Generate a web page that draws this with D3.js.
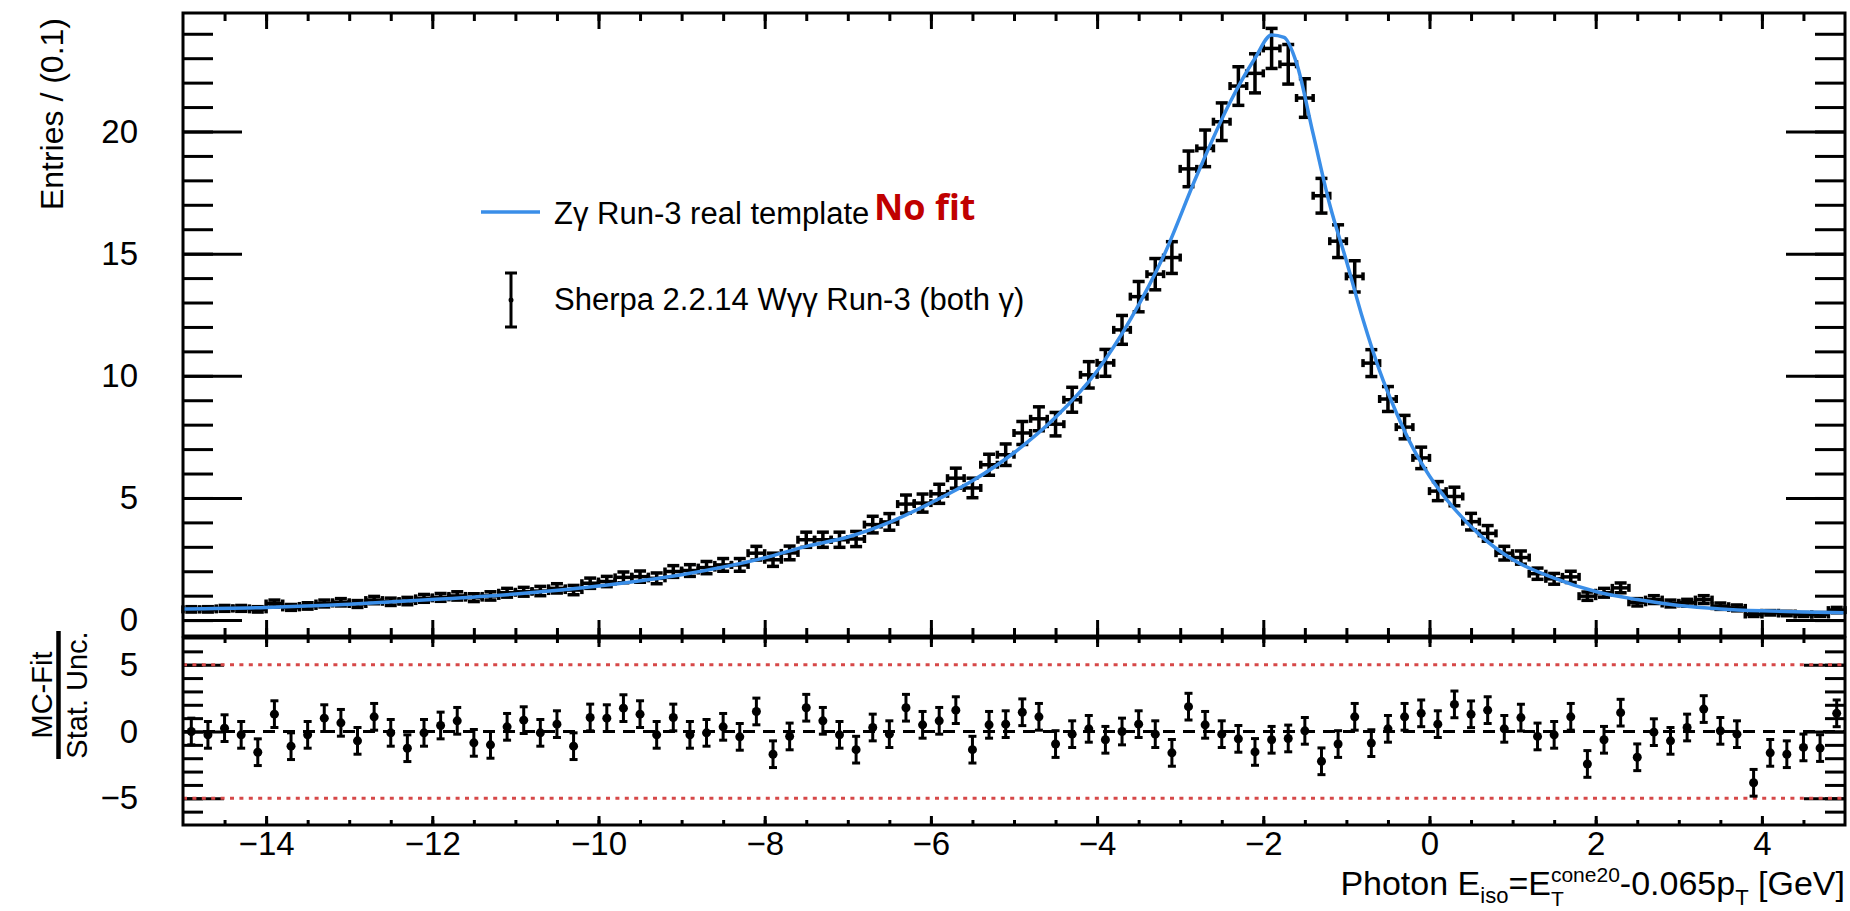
<!DOCTYPE html>
<html>
<head>
<meta charset="utf-8">
<script src="https://cdn.jsdelivr.net/npm/d3@7"></script>
<style>
  html, body { margin: 0; padding: 0; background: #fff; }
  svg { display: block; }
  text { font-family: "Liberation Sans", Arial, Helvetica, sans-serif; fill: #000; }
</style>
</head>
<body>
<div id="chart"></div>
<script>
// ---- data ----
// histogram: 100 bins of width 0.2 between -15 and 5
const binStart = -15;
const binWidth = 0.2;

const entries = [
  0.44, 0.44, 0.48, 0.48, 0.44, 0.68, 0.52, 0.58, 0.68, 0.73,
  0.66, 0.82, 0.75, 0.78, 0.89, 0.93, 0.99, 0.92, 0.99, 1.12,
  1.16, 1.19, 1.30, 1.23, 1.51, 1.58, 1.75, 1.78, 1.71, 1.99,
  2.03, 2.15, 2.26, 2.26, 2.74, 2.47, 2.75, 3.29, 3.29, 3.29,
  3.32, 3.91, 4.02, 4.75, 4.79, 5.17, 5.81, 5.41, 6.36, 6.77,
  7.66, 8.24, 8.02, 9.02, 10.04, 10.53, 11.88, 13.24, 14.16, 14.84,
  18.47, 19.31, 20.40, 21.86, 22.38, 23.40, 22.75, 21.37, 17.37, 15.51,
  14.07, 10.52, 9.05, 7.90, 6.64, 5.28, 5.06, 4.03, 3.55, 2.74,
  2.56, 1.90, 1.69, 1.77, 0.98, 1.12, 1.32, 0.73, 0.84, 0.68,
  0.71, 0.84, 0.57, 0.50, 0.23, 0.30, 0.27, 0.23, 0.23, 0.41
];

const entryErrors = [
  0.11, 0.11, 0.12, 0.12, 0.11, 0.14, 0.12, 0.13, 0.14, 0.15,
  0.14, 0.15, 0.15, 0.15, 0.16, 0.16, 0.17, 0.16, 0.17, 0.18,
  0.18, 0.19, 0.19, 0.19, 0.21, 0.21, 0.22, 0.23, 0.22, 0.24,
  0.24, 0.25, 0.26, 0.26, 0.28, 0.27, 0.28, 0.31, 0.31, 0.31,
  0.31, 0.34, 0.34, 0.37, 0.37, 0.39, 0.41, 0.40, 0.43, 0.44,
  0.47, 0.49, 0.48, 0.51, 0.54, 0.55, 0.59, 0.62, 0.64, 0.65,
  0.73, 0.75, 0.77, 0.79, 0.80, 0.82, 0.81, 0.79, 0.71, 0.67,
  0.64, 0.55, 0.51, 0.48, 0.44, 0.39, 0.38, 0.34, 0.32, 0.28,
  0.27, 0.23, 0.22, 0.23, 0.17, 0.18, 0.20, 0.15, 0.16, 0.14,
  0.14, 0.16, 0.13, 0.12, 0.08, 0.09, 0.09, 0.08, 0.08, 0.11
];

// (MC - Fit) / stat. unc. per bin, error is 1 by construction
const pulls = [
  0.00, -0.25, 0.25, -0.25, -1.55, 1.30, -1.10, -0.25, 1.00, 0.65,
  -0.70, 1.10, -0.10, -1.25, -0.10, 0.45, 0.80, -0.85, -1.00, 0.35,
  0.85, -0.10, 0.55, -1.10, 1.05, 1.00, 1.75, 1.30, -0.25, 1.05,
  -0.25, -0.10, 0.35, -0.40, 1.50, -1.70, -0.37, 1.78, 0.80, -0.25,
  -1.36, 0.30, -0.20, 1.78, 0.50, 0.80, 1.60, -1.36, 0.50, 0.55,
  1.44, 1.10, -0.94, -0.20, 0.20, -0.62, 0.00, 0.55, -0.20, -1.60,
  1.86, 0.50, -0.20, -0.55, -1.53, -0.62, -0.52, 0.05, -2.23, -0.94,
  1.10, -0.87, 0.20, 1.10, 1.36, 0.55, 2.03, 1.29, 1.60, 0.20,
  1.04, -0.37, -0.25, 1.10, -2.43, -0.62, 1.41, -1.93, -0.05, -0.70,
  0.30, 1.68, 0.05, -0.20, -3.84, -1.60, -1.70, -1.19, -1.24, 1.36
];
const pullError = 1;

// Z gamma template curve, sampled along the drawn line
const fitX = [-15, -14, -13, -12, -11, -10, -9, -8, -7.5, -7, -6.5, -6, -5.5, -5, -4.5, -4,
  -3.6, -3.2, -2.8, -2.4, -2.1, -1.9, -1.75, -1.6, -1.4, -1.2, -1.0, -0.8, -0.6, -0.4, -0.2,
  0.0, 0.3, 0.6, 1.0, 1.5, 2.0, 2.5, 3.0, 3.5, 4.0, 4.5, 5.0];
const fitY = [0.46, 0.52, 0.65, 0.84, 1.07, 1.40, 1.86, 2.55, 3.02, 3.40, 4.00, 4.80, 5.70, 6.85, 8.30, 10.2,
  12.3, 14.9, 18.2, 21.2, 23.0, 23.95, 23.85, 22.8, 19.9, 17.0, 14.7, 12.3, 10.2, 8.5, 7.05,
  5.9, 4.55, 3.5, 2.48, 1.72, 1.17, 0.84, 0.60, 0.46, 0.38, 0.33, 0.30];

const mainYLabels = [0, 5, 10, 15, 20];
const ratioYLabels = [-5, 0, 5];
const xLabels = [-14, -12, -10, -8, -6, -4, -2, 0, 2, 4];
const ratioLimits = [-5, 5];

// ---- layout ----
const W = 1850, H = 911;
const plotL = 183, plotR = 1845;
const mainTop = 13, mainBottom = 636;
const ratioTop = 638, ratioBottom = 825;
const blue = "#3a8ee8";
const fontStack = '"Liberation Sans", Arial, Helvetica, sans-serif';

const svg = d3.select("#chart").append("svg")
    .attr("width", W)
    .attr("height", H);

svg.append("rect").attr("width", W).attr("height", H).attr("fill", "#fff");

const x = d3.scaleLinear().domain([-15, 5]).range([plotL, plotR]);
const yMain = d3.scaleLinear().domain([-0.65, 24.85]).range([mainBottom, mainTop]);
const yRatio = d3.scaleLinear().domain([-7, 7]).range([ratioBottom, ratioTop]);

const bins = entries.map(function (v, i) {
    return {
        c: +(binStart + binWidth * (i + 0.5)).toFixed(2),
        v: v,
        e: entryErrors[i],
        p: pulls[i]
    };
});

const minorX = d3.range(-14.5, 5, 0.5);
const majorX = d3.range(-14, 5, 2);

// draws ticks of one axis with d3, removes the domain path
function tickAxis(axis, values, size, tx, ty) {
    const g = svg.append("g")
        .attr("transform", "translate(" + tx + "," + ty + ")")
        .call(axis.tickValues(values).tickSize(size).tickFormat(""));
    g.select(".domain").remove();
    g.selectAll(".tick line").attr("stroke", "#000").attr("stroke-width", 3);
    return g;
}

function labelAxis(axis, values, pad, tx, ty, fs) {
    const g = svg.append("g")
        .attr("transform", "translate(" + tx + "," + ty + ")")
        .call(axis.tickValues(values).tickSize(0).tickPadding(pad));
    g.select(".domain").remove();
    g.selectAll(".tick line").remove();
    g.selectAll(".tick text")
        .attr("fill", "#000")
        .style("font-family", fontStack)
        .style("font-size", fs + "px");
    return g;
}

// ---- main panel ----
// x ticks top & bottom
tickAxis(d3.axisBottom(x), minorX, -8, 0, mainBottom);
tickAxis(d3.axisBottom(x), majorX, -16, 0, mainBottom);
tickAxis(d3.axisTop(x), minorX, -8, 0, mainTop);
tickAxis(d3.axisTop(x), majorX, -16, 0, mainTop);
// y ticks left & right
tickAxis(d3.axisLeft(yMain), d3.range(0, 25, 1), -30, plotL, 0);
tickAxis(d3.axisLeft(yMain), mainYLabels, -59, plotL, 0);
tickAxis(d3.axisRight(yMain), d3.range(0, 25, 1), -30, plotR, 0);
tickAxis(d3.axisRight(yMain), mainYLabels, -59, plotR, 0);
labelAxis(d3.axisLeft(yMain), mainYLabels, 45, plotL, 0, 33);

// data points: cross with caps
const pts = svg.append("g").attr("stroke", "#000").attr("stroke-width", 3.5);
const hb = binWidth / 2;
bins.forEach(function (d) {
    const cx = x(d.c), cy = yMain(d.v);
    const yl = yMain(d.v - d.e), yh = yMain(d.v + d.e);
    const xl = x(d.c - hb), xh = x(d.c + hb);
    pts.append("line").attr("x1", cx).attr("x2", cx).attr("y1", yl).attr("y2", yh);
    pts.append("line").attr("x1", cx - 6).attr("x2", cx + 6).attr("y1", yl).attr("y2", yl);
    pts.append("line").attr("x1", cx - 6).attr("x2", cx + 6).attr("y1", yh).attr("y2", yh);
    pts.append("line").attr("x1", xl).attr("x2", xh).attr("y1", cy).attr("y2", cy);
    pts.append("line").attr("x1", xl).attr("x2", xl).attr("y1", cy - 4).attr("y2", cy + 4);
    pts.append("line").attr("x1", xh).attr("x2", xh).attr("y1", cy - 4).attr("y2", cy + 4);
});

// template curve
const fitLine = d3.line()
    .x(function (d) { return x(d[0]); })
    .y(function (d) { return yMain(d[1]); })
    .curve(d3.curveMonotoneX);

svg.append("path")
    .datum(d3.zip(fitX, fitY))
    .attr("d", fitLine)
    .attr("fill", "none")
    .attr("stroke", blue)
    .attr("stroke-width", 3.5);

svg.append("rect")
    .attr("x", plotL).attr("y", mainTop)
    .attr("width", plotR - plotL).attr("height", mainBottom - mainTop)
    .attr("fill", "none").attr("stroke", "#000").attr("stroke-width", 3);

// legend
svg.append("line")
    .attr("x1", 481).attr("x2", 540).attr("y1", 212).attr("y2", 212)
    .attr("stroke", blue).attr("stroke-width", 3.5);
svg.append("text")
    .attr("x", 554).attr("y", 224)
    .style("font-size", "31px")
    .text("Z\u03b3 Run-3 real template");
svg.append("text")
    .attr("x", 874).attr("y", 220)
    .style("font-family", '"Open Sans", "Noto Sans", sans-serif')
    .style("font-weight", 700)
    .style("font-size", "36px")
    .style("fill", "#c00000")
    .text("No fit");

const lg = svg.append("g").attr("stroke", "#000").attr("stroke-width", 3);
lg.append("line").attr("x1", 511).attr("x2", 511).attr("y1", 273).attr("y2", 327);
lg.append("line").attr("x1", 505).attr("x2", 517).attr("y1", 273).attr("y2", 273);
lg.append("line").attr("x1", 505).attr("x2", 517).attr("y1", 327).attr("y2", 327);
svg.append("circle").attr("cx", 511).attr("cy", 300).attr("r", 2.5).attr("fill", "#000");
svg.append("text")
    .attr("x", 554).attr("y", 310)
    .style("font-size", "31px")
    .text("Sherpa 2.2.14 W\u03b3\u03b3 Run-3 (both \u03b3)");

// y title
svg.append("text")
    .attr("transform", "translate(63,18) rotate(-90)")
    .attr("text-anchor", "end")
    .style("font-size", "32px")
    .text("Entries / (0.1)");

// ---- ratio panel ----
tickAxis(d3.axisBottom(x), minorX, -5, 0, ratioBottom);
tickAxis(d3.axisBottom(x), majorX, -9, 0, ratioBottom);
tickAxis(d3.axisTop(x), minorX, -5, 0, ratioTop);
tickAxis(d3.axisTop(x), majorX, -9, 0, ratioTop);
tickAxis(d3.axisLeft(yRatio), d3.range(-6, 7, 1), -20, plotL, 0);
tickAxis(d3.axisLeft(yRatio), ratioYLabels, -41, plotL, 0);
tickAxis(d3.axisRight(yRatio), d3.range(-6, 7, 1), -20, plotR, 0);
tickAxis(d3.axisRight(yRatio), ratioYLabels, -41, plotR, 0);
labelAxis(d3.axisLeft(yRatio), ratioYLabels, 45, plotL, 0, 33);
labelAxis(d3.axisBottom(x), xLabels, 7, 0, ratioBottom, 33);

// limits at +-5
svg.selectAll(".limit")
    .data(ratioLimits)
    .enter().append("line")
    .attr("class", "limit")
    .attr("x1", plotL).attr("x2", plotR)
    .attr("y1", function (d) { return yRatio(d); })
    .attr("y2", function (d) { return yRatio(d); })
    .attr("stroke", "#d64848")
    .attr("stroke-width", 3)
    .attr("stroke-dasharray", "4,5.4");

// zero line
svg.append("line")
    .attr("x1", plotL).attr("x2", plotR)
    .attr("y1", yRatio(0)).attr("y2", yRatio(0))
    .attr("stroke", "#000").attr("stroke-width", 3)
    .attr("stroke-dasharray", "12,8");

const rp = svg.append("g").attr("stroke", "#000").attr("stroke-width", 3);
bins.forEach(function (d) {
    const cx = x(d.c);
    const yl = yRatio(d.p - pullError), yh = yRatio(d.p + pullError);
    rp.append("line").attr("x1", cx).attr("x2", cx).attr("y1", yl).attr("y2", yh);
    rp.append("line").attr("x1", cx - 4).attr("x2", cx + 4).attr("y1", yl).attr("y2", yl);
    rp.append("line").attr("x1", cx - 4).attr("x2", cx + 4).attr("y1", yh).attr("y2", yh);
});
svg.append("g").selectAll("circle")
    .data(bins)
    .enter().append("circle")
    .attr("cx", function (d) { return x(d.c); })
    .attr("cy", function (d) { return yRatio(d.p); })
    .attr("r", 4.5)
    .attr("fill", "#000");

svg.append("rect")
    .attr("x", plotL).attr("y", ratioTop)
    .attr("width", plotR - plotL).attr("height", ratioBottom - ratioTop)
    .attr("fill", "none").attr("stroke", "#000").attr("stroke-width", 3);

// ratio y title as a fraction
const frac = svg.append("g").attr("transform", "translate(0,695)");
frac.append("text")
    .attr("transform", "translate(52,0) rotate(-90)")
    .attr("text-anchor", "middle")
    .style("font-size", "29px")
    .text("MC-Fit");
frac.append("text")
    .attr("transform", "translate(87,0) rotate(-90)")
    .attr("text-anchor", "middle")
    .style("font-size", "29px")
    .text("Stat. Unc.");
frac.append("line")
    .attr("x1", 58.5).attr("x2", 58.5).attr("y1", -64).attr("y2", 64)
    .attr("stroke", "#000").attr("stroke-width", 4.5);

// x title with sub/superscripts, right aligned on the frame
const xt = svg.append("g");
let cursor = 0;
function piece(txt, size, dy, advance) {
    const t = xt.append("text")
        .attr("x", cursor).attr("y", dy)
        .style("font-size", size + "px")
        .style("white-space", "pre")
        .text(txt);
    const w = t.node().getComputedTextLength();
    if (advance) cursor += w;
    return w;
}
piece("Photon E", 34, 0, true);
piece("iso", 22, 8, true);
piece("=E", 34, 0, true);
const wSup = piece("cone20", 21, -13, false);
const wSub = piece("T", 21, 11, false);
cursor += Math.max(wSup, wSub);
piece("-0.065p", 34, 0, true);
piece("T", 22, 10, true);
piece(" [GeV]", 34, 0, true);
xt.attr("transform", "translate(" + (plotR - cursor) + ",895)");
</script>
</body>
</html>
